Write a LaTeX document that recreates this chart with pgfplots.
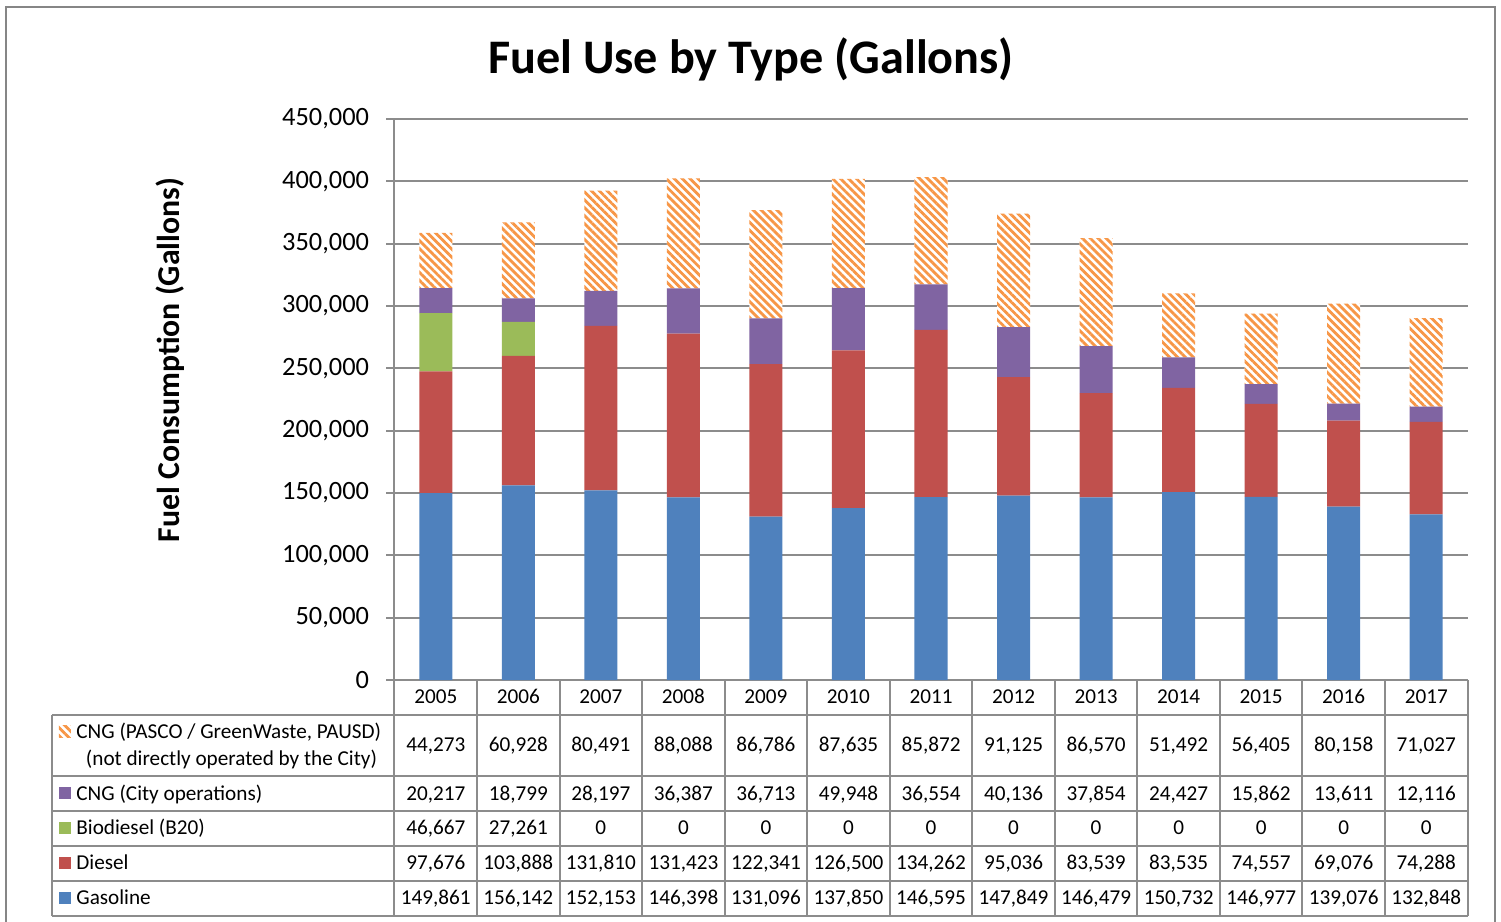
\documentclass[border=0pt]{standalone}
\usepackage{fontspec}
\setmainfont{Carlito}
\usepackage{pgfplots}
\pgfplotsset{compat=1.18}
\usepackage{pgfplotstable}
\usetikzlibrary{patterns.meta}

\definecolor{cgas}{HTML}{4F81BD}
\definecolor{cdie}{HTML}{C0504D}
\definecolor{cbio}{HTML}{9BBB59}
\definecolor{ccity}{HTML}{8064A2}
\definecolor{cpas}{HTML}{F79646}
\definecolor{gridc}{HTML}{8C8C8C}
\definecolor{framec}{HTML}{868686}

\pgfplotstableread{
x year gas diesel bio city pasco
0 2005 149861 97676 46667 20217 44273
1 2006 156142 103888 27261 18799 60928
2 2007 152153 131810 0 28197 80491
3 2008 146398 131423 0 36387 88088
4 2009 131096 122341 0 36713 86786
5 2010 137850 126500 0 49948 87635
6 2011 146595 134262 0 36554 85872
7 2012 147849 95036 0 40136 91125
8 2013 146479 83539 0 37854 86570
9 2014 150732 83535 0 24427 51492
10 2015 146977 74557 0 15862 56405
11 2016 139076 69076 0 13611 80158
12 2017 132848 74288 0 12116 71027
}\data

\tikzset{hatch/.style={fill=white, postaction={pattern={Lines[angle=-45,distance=2.8pt,line width=1.4pt]}, pattern color=cpas}}}
\newcommand\tabfont{\fontsize{10.6}{12.5}\selectfont}
\newcommand\cell[3]{%
  \pgfplotstablegetelem{#1}{#2}\of\data
  \edef\val{\pgfplotsretval}%
  \node[font=\tabfont, anchor=base, inner sep=0pt] at (\cx,#3) {\pgfmathprintnumber[fixed,precision=0,1000 sep={,},assume math mode=true]{\val}};}

\begin{document}
\begin{tikzpicture}
\begin{axis}[
  scale only axis, width=536.5pt, height=280.5pt,
  xmin=-0.5, xmax=12.5, ymin=0, ymax=450000,
  ybar stacked, bar width=16.5pt,
  xtick=\empty,
  ytick={0,50000,...,450000},
  scaled y ticks=false,
  /pgf/number format/fixed,
  /pgf/number format/1000 sep={,},
  /pgf/number format/assume math mode=true,
  ymajorgrids, grid style={gridc, line width=1pt},
  axis lines*=left,
  axis line style={gridc, line width=1pt},
  tick style={gridc, line width=1pt},
  tick align=outside, major tick length=4pt,
  yticklabel style={font=\fontsize{13.2}{15}\selectfont, text=black, inner sep=0pt, xshift=-8.5pt},
]
\addplot[fill=cgas, draw=none] table[x=x,y=gas]{\data};
\addplot[fill=cdie, draw=none] table[x=x,y=diesel]{\data};
\addplot[fill=cbio, draw=none] table[x=x,y=bio]{\data};
\addplot[fill=ccity, draw=none] table[x=x,y=city]{\data};
\addplot[hatch, draw=none] table[x=x,y=pasco]{\data};
\end{axis}
\begin{scope}[x=0.5pt,y=-0.5pt,shift={(-394.5,-680)}]
  \useasboundingbox (0,0) rectangle (1501,922);
  \draw[framec, line width=1pt] (6,7) rectangle (1495,940);
  \node[font={\fontsize{24.1}{28}\selectfont\bfseries}] at (751,59) {Fuel Use by Type (Gallons)};
  \node[rotate=90, font={\fontsize{15.9}{18}\selectfont\bfseries}] at (170.5,360) {Fuel Consumption (Gallons)};
  % table grid
  \begin{scope}[gridc, line width=1pt]
    \foreach \yy in {714.5,775.5,810.5,845.5,880.5,915.5} \draw (52,\yy) -- (1467.5,\yy);
    \draw (52,714.5) -- (52,915.5);
    \foreach \k in {0,...,13} \draw ({394.5+82.54*\k},680) -- ({394.5+82.54*\k},915.5);
  \end{scope}
  % values
  \foreach \i in {0,...,12} {
    \pgfmathsetmacro\cx{394.5+82.54*(\i+0.5)}
    \pgfplotstablegetelem{\i}{year}\of\data
    \edef\yr{\pgfplotsretval}
    \node[font=\tabfont, anchor=base, inner sep=0pt] at (\cx,703) {\yr};
    \cell{\i}{pasco}{751}
    \cell{\i}{city}{800}
    \cell{\i}{bio}{834.5}
    \cell{\i}{diesel}{869.5}
    \cell{\i}{gas}{904}
  }
  % legend column
  \fill[white] (59,725) rectangle (71,737);
  \path[hatch] (59,725) rectangle (71,737);
  \node[font=\tabfont, anchor=base west, inner sep=0pt] at (76,738.5) {CNG (PASCO / GreenWaste, PAUSD)};
  \node[font=\tabfont, anchor=base, inner sep=0pt] at (231.5,765) {(not directly operated by the City)};
  \fill[ccity] (59,787) rectangle (71,799);
  \node[font=\tabfont, anchor=base west, inner sep=0pt] at (76,800) {CNG (City operations)};
  \fill[cbio] (59,822) rectangle (71,834);
  \node[font=\tabfont, anchor=base west, inner sep=0pt] at (76,834.5) {Biodiesel (B20)};
  \fill[cdie] (59,857) rectangle (71,869);
  \node[font=\tabfont, anchor=base west, inner sep=0pt] at (76,869.5) {Diesel};
  \fill[cgas] (59,892) rectangle (71,904);
  \node[font=\tabfont, anchor=base west, inner sep=0pt] at (76,904) {Gasoline};
\end{scope}
\end{tikzpicture}
\end{document}
